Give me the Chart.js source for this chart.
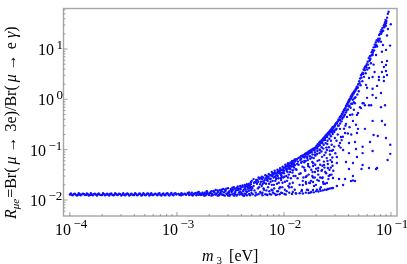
<!DOCTYPE html>
<html>
<head>
<meta charset="utf-8">
<title>R vs m3</title>
<script src="https://cdn.jsdelivr.net/npm/chart.js@4"></script>
<style>
body { margin: 0; background: #fff; }
canvas { display: block; }
</style>
</head>
<body>
<canvas id="plot" width="407" height="264"></canvas>
<script>
// values, m3 in eV and the ratio R
const flatM = [1.00e-4,1.04e-4,1.09e-4,1.13e-4,1.19e-4,1.24e-4,1.29e-4,1.35e-4,1.42e-4,1.47e-4,
  1.54e-4,1.60e-4,1.68e-4,1.76e-4,1.83e-4,1.90e-4,2.00e-4,2.08e-4,2.18e-4,2.28e-4,
  2.37e-4,2.47e-4,2.59e-4,2.71e-4,2.82e-4,2.94e-4,3.08e-4,3.22e-4,3.35e-4,3.49e-4,
  3.66e-4,3.83e-4,3.99e-4,4.15e-4,4.35e-4,4.55e-4,4.74e-4,4.94e-4,5.17e-4,5.41e-4,
  5.64e-4,5.88e-4,6.15e-4,6.43e-4,6.70e-4,6.98e-4,7.31e-4,7.64e-4,7.97e-4,8.31e-4,
  8.69e-4,9.08e-4,9.47e-4,9.88e-4,
  1.02e-4,1.11e-4,1.21e-4,1.32e-4,1.44e-4,1.57e-4,1.71e-4,1.86e-4,2.04e-4,2.23e-4,
  2.43e-4,2.65e-4,2.88e-4,3.15e-4,3.43e-4,3.74e-4,4.07e-4,4.45e-4,4.85e-4,5.28e-4,
  5.76e-4,6.28e-4,6.86e-4,7.47e-4,8.15e-4,8.88e-4,9.68e-4,
  1.06e-4,1.16e-4,1.26e-4,1.38e-4,1.50e-4,1.64e-4,1.79e-4,1.95e-4,2.13e-4,2.33e-4,
  2.54e-4,2.77e-4,3.02e-4,3.29e-4,3.58e-4,3.90e-4,4.26e-4,4.65e-4,5.07e-4,5.52e-4,
  6.02e-4,6.57e-4,7.16e-4,7.80e-4,8.50e-4,9.27e-4];
const flatR = [.0129,.0127,.0131,.0128,.0126,.0130,.0128,.0132,.0127,.0130,
  .0126,.0129,.0131,.0127,.0130,.0128,.0126,.0131,.0129,.0127,
  .0132,.0128,.0126,.0130,.0127,.0131,.0128,.0126,.0130,.0132,
  .0127,.0129,.0126,.0131,.0128,.0132,.0126,.0130,.0127,.0133,
  .0129,.0126,.0131,.0128,.0133,.0127,.0130,.0126,.0134,.0128,
  .0131,.0127,.0134,.0129,
  .0135,.0134,.0136,.0134,.0135,.0136,.0134,.0135,.0136,.0134,
  .0135,.0136,.0134,.0136,.0135,.0134,.0136,.0135,.0137,.0135,
  .0136,.0134,.0137,.0135,.0136,.0138,.0136,
  .0124,.0123,.0124,.0125,.0123,.0124,.0123,.0125,.0124,.0123,
  .0124,.0125,.0123,.0124,.0123,.0125,.0124,.0123,.0124,.0123,
  .0125,.0124,.0123,.0124,.0123,.0124];

const riseM = [1.03e-3,1.07e-3,1.10e-3,1.14e-3,1.18e-3,1.22e-3,1.26e-3,1.30e-3,1.34e-3,1.38e-3,
  1.42e-3,1.47e-3,1.52e-3,1.57e-3,1.62e-3,1.68e-3,1.73e-3,1.79e-3,1.85e-3,1.91e-3,
  1.97e-3,2.03e-3,2.10e-3,2.17e-3,2.24e-3,2.31e-3,2.39e-3,2.47e-3,2.55e-3,2.63e-3,
  2.72e-3,2.81e-3,2.90e-3,3.00e-3,3.09e-3,3.19e-3,3.29e-3,3.40e-3,3.51e-3,3.62e-3,
  3.74e-3,3.86e-3,3.99e-3,4.12e-3,4.25e-3,4.38e-3,4.52e-3,4.66e-3,4.82e-3,4.97e-3,
  2.60e-3,3.02e-3,3.30e-3,3.50e-3,3.70e-3,3.90e-3,4.10e-3,4.20e-3,4.30e-3,4.40e-3,
  4.60e-3,4.70e-3,4.90e-3,4.80e-3,4.50e-3,
  1.05e-3,1.12e-3,1.20e-3,1.28e-3,1.36e-3,1.44e-3,1.50e-3,1.55e-3,1.60e-3,1.65e-3,
  1.70e-3,1.76e-3,1.82e-3,1.88e-3,1.94e-3,2.00e-3,2.06e-3,2.13e-3,2.20e-3,2.28e-3,
  2.35e-3,2.43e-3,2.50e-3,2.58e-3,2.67e-3,2.76e-3,2.85e-3,2.95e-3,3.05e-3,3.14e-3,
  3.24e-3,3.35e-3,3.45e-3,3.56e-3,3.68e-3,3.80e-3,3.93e-3,4.05e-3,4.15e-3,4.28e-3,
  4.35e-3,4.45e-3,4.58e-3,4.72e-3,4.85e-3,4.95e-3,
  1.1e-3,1.3e-3,1.4e-3,1.6e-3,1.8e-3,1.9e-3,2.1e-3,2.2e-3,2.3e-3,2.4e-3,
  2.5e-3,2.6e-3,2.7e-3,2.8e-3,2.9e-3,3.0e-3,3.1e-3,3.2e-3,3.3e-3,3.4e-3,
  3.5e-3,3.6e-3,3.7e-3,3.8e-3,3.9e-3,4.0e-3,4.1e-3,4.2e-3,4.3e-3,4.4e-3,
  4.5e-3,4.6e-3,4.7e-3,4.8e-3,4.9e-3,5.0e-3];
const riseR = [.0132,.0126,.0136,.0128,.0133,.0127,.0138,.0125,.0131,.0140,
  .0127,.0135,.0124,.0142,.0130,.0126,.0140,.0133,.0124,.0146,
  .0128,.0136,.0150,.0125,.0141,.0130,.0154,.0124,.0138,.0148,
  .0126,.0160,.0134,.0123,.0150,.0166,.0130,.0122,.0144,.0174,
  .0156,.0128,.0136,.0184,.0121,.0162,.0146,.0194,.0124,.0138,
  .0130,.0142,.0152,.0130,.0166,.0146,.0126,.0158,.0174,.0132,
  .0176,.0152,.0206,.0168,.0124,
  .0129,.0132,.0130,.0133,.0128,.0132,.0138,.0131,.0127,.0135,
  .0131,.0127,.0139,.0132,.0137,.0126,.0143,.0132,.0147,.0128,
  .0135,.0145,.0132,.0152,.0127,.0143,.0152,.0130,.0138,.0127,
  .0144,.0162,.0136,.0156,.0128,.0140,.0164,.0133,.0150,.0134,
  .0188,.0148,.0190,.0132,.0182,.0156,
  .0124,.0142,.0123,.0145,.0122,.0150,.0122,.0152,.0158,.0122,
  .0157,.0160,.0165,.0122,.0168,.0172,.0121,.0158,.0175,.0180,
  .0168,.0122,.0185,.0170,.0190,.0178,.0195,.0122,.0200,.0185,
  .0205,.0168,.0208,.0190,.0225,.0180];

const cloudM = [5.0e-3,5.1e-3,5.2e-3,5.3e-3,5.4e-3,5.5e-3,5.6e-3,5.7e-3,5.8e-3,5.9e-3,
  6.0e-3,6.1e-3,6.2e-3,6.3e-3,6.4e-3,6.5e-3,6.6e-3,6.7e-3,6.8e-3,6.9e-3,
  7.0e-3,7.1e-3,7.2e-3,7.3e-3,7.4e-3,7.5e-3,7.6e-3,7.7e-3,7.8e-3,7.9e-3,
  8.0e-3,8.1e-3,8.2e-3,8.3e-3,8.4e-3,8.5e-3,8.6e-3,8.7e-3,8.8e-3,8.9e-3,
  9.0e-3,9.1e-3,9.2e-3,9.3e-3,9.4e-3,9.5e-3,9.6e-3,9.7e-3,9.8e-3,9.9e-3,
  .0101,.0102,.0103,.0104,.0106,.0107,.0109,.0110,.0111,.0112,
  .0114,.0115,.0116,.0118,.0119,.0120,.0121,.0123,.0124,.0126,
  .0127,.0128,.0129,5.35e-3,6.25e-3,7.05e-3,7.75e-3,8.55e-3,9.15e-3,9.75e-3,
  .0105,.0113,.0122,.0125,5.75e-3,6.55e-3,7.45e-3,8.25e-3,9.45e-3,.0108,
  5.05e-3,5.25e-3,5.45e-3,5.65e-3,5.85e-3,6.05e-3,6.15e-3,6.35e-3,6.45e-3,6.75e-3,
  6.85e-3,6.95e-3,7.15e-3,7.25e-3,7.35e-3,7.55e-3,7.65e-3,7.85e-3,7.95e-3,8.05e-3,
  8.15e-3,8.35e-3,8.45e-3,8.65e-3,8.75e-3,8.85e-3,8.95e-3,9.05e-3,9.25e-3,9.35e-3,
  9.55e-3,9.65e-3,9.85e-3,9.95e-3,.0100,.0102,.0104,.0105,.0106,.0108,
  .0109,.0110,.0111,.0113,.0114,.0116,.0117,.0118,.0120,.0121,
  .0123,.0124,.0126,.0128,.0129,.0130,
  5.2e-3,5.5e-3,5.8e-3,6.0e-3,6.2e-3,6.4e-3,6.7e-3,7.0e-3,7.2e-3,7.5e-3,
  7.7e-3,8.0e-3,8.2e-3,8.5e-3,8.7e-3,9.0e-3,9.2e-3,9.5e-3,9.7e-3,.0100,
  .0103,.0106,.0109,.0112,.0115,.0119,.0122,.0126,5.6e-3,6.3e-3,
  6.9e-3,7.8e-3,8.6e-3,9.4e-3,.0101,.0112,.0121];
const cloudR = [.024,.013,.019,.0155,.0123,.025,.021,.017,.0132,.0265,
  .0145,.023,.019,.0124,.028,.016,.025,.013,.021,.030,
  .0126,.018,.027,.015,.031,.023,.0128,.020,.033,.014,
  .028,.017,.035,.024,.0126,.031,.021,.036,.015,.027,
  .038,.013,.018,.033,.025,.040,.0138,.022,.035,.042,
  .029,.016,.044,.0129,.038,.024,.046,.019,.032,.014,
  .048,.041,.027,.050,.0132,.035,.022,.054,.044,.016,
  .058,.030,.0136,.0225,.026,.024,.030,.033,.036,.039,
  .041,.043,.047,.051,.023,.022,.026,.029,.031,.036,
  .017,.022,.014,.025,.018,.027,.0135,.021,.017,.027,
  .0155,.025,.029,.021,.0132,.031,.016,.024,.034,.020,
  .0134,.034,.026,.015,.030,.037,.022,.017,.040,.027,
  .035,.018,.028,.044,.038,.023,.047,.030,.015,.049,
  .028,.042,.052,.021,.036,.054,.046,.018,.057,.039,
  .030,.060,.049,.062,.041,.065,
  .026,.0225,.028,.0205,.029,.0235,.031,.028,.033,.0265,
  .036,.032,.038,.027,.040,.034,.043,.029,.046,.034,
  .050,.042,.054,.046,.056,.060,.052,.064,.0128,.014,
  .0128,.0155,.0128,.014,.0132,.0178,.0145];

const ridgeM = [.0132,.0136,.0140,.0144,.0148,.0152,.0157,.0161,.0166,.0170,
  .0175,.0180,.0185,.0190,.0196,.0201,.0207,.0213,.0219,.0225,
  .0231,.0238,.0244,.0250,.0257,.0264,.0271,.0278,.0285,
  .0142,.0155,.0168,.0182,.0193,.0204,.0216,.0228,.0241,.0253,.0267,.0281,
  .0292,.0300,.0308,.0316,.0324,.0332,.0340,.0348,.0356,.0364,
  .0372,.0380,.0388,.0396,.0404,.0412,.0420,.0428,.0436,.0444,.0452,.0460,.0470,.0478,
  .0295,.0305,.0320,.0335,.0350,.0365,.0380,.0395,.0410,.0425,.0440,.0455,
  .0485,.0495,.0505,.0515,.0525,.0535,.0545,.0555,.0565,.0575,
  .0585,.0595,.0605,.0620,.0635,.0648,.0660,.0672,.0680,.0690,
  .0705,.0720,.0735,.0750,.0760,.0775,.0790,.0800,.0815,.0830,
  .0845,.0855,.0870,.0880,.0890,.0905,.0920,.0935,.0950,
  .0135,.0145,.0150,.0158,.0163,.0172,.0178,.0188,.0194,.0199,
  .0205,.0210,.0215,.0222,.0228,.0235,.0240,.0247,.0254,.0260,
  .0268,.0275,.0283,.0290,.0298,.0303,.0312,.0322,.0330,.0338,
  .0345,.0353,.0360,.0368,.0376,.0384,.0392,.0400,.0408,.0416,
  .0424,.0432,.0440,.0448,.0456,.0465,.0474,
  .0490,.0510,.0530,.0550,.0570,.0590,.0610,.0628,.0642,.0665,
  .0676,.0695,.0712,.0730,.0765,.0785,.0810,.0825,.0885,.0895,.0900,.0865,
  .0145,.0155,.0165,.0175,.0185,.0195,.0205,.0215,.0225,.0235,
  .0245,.0255,.0265,.0275,.0285,.0295,.0310,.0325,.0345,.0358,
  .0370,.0385,.0405,.0420,.0435,.0450,.0465,.0485,.0500,.0520,
  .0540,.0560,.0580,.0600,.0625,.0650];
const ridgeR = [.064,.068,.070,.074,.076,.078,.082,.085,.088,.092,
  .095,.099,.103,.106,.110,.118,.128,.138,.145,.155,
  .165,.176,.190,.200,.214,.228,.244,.260,.280,
  .062,.070,.080,.090,.096,.105,.122,.135,.160,.178,.200,.232,
  .29,.31,.34,.36,.40,.44,.47,.52,.57,.62,
  .66,.74,.80,.88,.96,1.02,1.12,1.2,1.28,1.36,1.42,1.5,1.62,1.75,
  .24,.25,.30,.33,.41,.47,.55,.63,.75,.82,.98,1.05,
  1.8,2.0,2.3,2.6,3.0,3.2,3.4,3.9,4.2,4.5,
  4.6,5.0,5.6,6.6,7.2,7.4,8.6,9.6,9.0,10.8,
  12.2,13.5,15,14.5,16,19,20,22,24,26,
  23,29,31,34,38,36,42,50,55,
  .058,.066,.072,.074,.080,.086,.088,.098,.104,.108,
  .113,.118,.125,.135,.146,.155,.168,.178,.192,.205,
  .220,.238,.250,.270,.288,.320,.330,.370,.395,.440,
  .480,.515,.560,.610,.670,.730,.790,.860,.930,1.00,
  1.06,1.14,1.24,1.30,1.40,1.48,1.60,
  1.7,2.1,2.7,3.2,3.8,4.3,4.9,5.8,6.4,7.6,
  8.4,9.4,11,12,14,16,20,22,30,29,33,27,
  .055,.060,.068,.074,.080,.088,.094,.100,.112,.125,
  .135,.150,.165,.185,.205,.225,.260,.300,.365,.44,
  .50,.60,.72,.68,.82,.88,1.1,1.25,1.45,1.9,
  2.3,2.8,3.3,3.9,4.2,5.2];

const midM = [.0131,.0134,.0137,.0140,.0143,.0146,.0149,.0152,.0155,.0158,
  .0161,.0164,.0167,.0170,.0173,.0176,.0179,.0182,.0185,.0188,
  .0191,.0194,.0197,.0200,.0203,.0206,.0209,.0212,.0215,.0218,
  .0221,.0224,.0227,.0230,.0233,.0236,.0239,.0242,.0245,.0248,
  .0251,.0254,.0257,.0260,.0263,.0266,.0269,.0272,.0275,.0278,
  .0281,.0284,
  .0217,.0241,.0281,.0299,.0341,.0372,.0334,.0405,.0461,.0287,
  .0252,.0217,.0195,.0165,.0184,.0168,.0187,.0209,.0237,.0281,
  .0312,.0357,.0405,.0380,.0481,.0312,.0257,.0227,.0195,.0157,
  .0160,.0184,.0205,.0227,.0269,.0287,.0327,.0372,.0441,.0423,
  .0461,.0441,.0160,.0175,.0187,.0232,.0252,
  .0492,.0481,.0571,.0471,.0441,.0380,.0334,.0388,.0481,.0461,
  .0543,.0623,.0571,.0414,.0334,.0513,.0492,
  .0133,.0139,.0147,.0150,.0154,.0160,.0163,.0168,.0172,.0176,
  .0180,.0187,.0190,.0196,.0199,.0204,.0208,.0214,.0218,.0224,
  .0229,.0234,.0238,.0243,.0249,.0255,.0262,.0268,.0274,.0279,
  .0283,.0289,.0295,.0302,.0310,.0318,.0326,.0338,.0346,.0355,
  .0364,.0375,.0395,.0410,.0425,.0435,.0450];
const midR = [.040,.027,.050,.020,.034,.015,.046,.028,.056,.038,
  .021,.016,.062,.032,.045,.014,.024,.070,.036,.054,
  .019,.028,.076,.042,.016,.060,.032,.024,.086,.050,
  .018,.038,.072,.028,.105,.058,.044,.021,.088,.034,
  .068,.130,.052,.026,.112,.040,.080,.062,.150,.032,
  .095,.048,
  .142,.156,.224,.171,.179,.215,.136,.136,.142,.0986,
  .0986,.0986,.0785,.0717,.0568,.0473,.0473,.0432,.0495,.0568,
  .0717,.0986,.0855,.0568,.0717,.0543,.0432,.0394,.0359,.0394,
  .0286,.0300,.0250,.0274,.0314,.0274,.0261,.0261,.0300,.0239,
  .0239,.0245,.0228,.0218,.0228,.0228,.0218,
  .259,.215,.259,.312,.373,.326,.259,.448,.491,.839,
  .839,.765,.765,.491,.39,.70,.536,
  .052,.033,.058,.024,.044,.060,.030,.052,.022,.066,
  .040,.028,.068,.050,.020,.082,.038,.062,.028,.092,
  .048,.021,.078,.036,.110,.060,.030,.095,.044,.125,
  .070,.038,.115,.085,.150,.200,.120,.110,.155,.180,
  .260,.300,.210,.280,.200,.50,.62];

const lowerM = [.0130,.0140,.0150,.0160,.0170,.0180,.0190,.0200,.0210,.0220,
  .0230,.0240,.0250,.0260,.0270,.0280,.0150,.0168,.0187,.0217,
  .0257,.0287,.0312,.0357,.0147];
const lowerR = [.0134,.0136,.0135,.0140,.0138,.0144,.0142,.0150,.0148,.0152,
  .0155,.0160,.0160,.0166,.0170,.0172,.0199,.0158,.0158,.0165,
  .0165,.0173,.0190,.0199,.0158];

const sparseM = [.0806,.0879,.0823,.0879,.0673,.0898,.0688,.0753,.0637,.0985,
  .0985,.0930,.0673,.0543,.0543,.0471,.0530,.0543,.0441,.0623,
  .0725,.0741,.0405,
  .0995,.0937,.0918,.0980,.0898,.0823,.0741,.0725,.0673,.0918,
  .0823,.0898,.0858,.0898,.0823,.0918,.0771,.0858,.0623,.0771,
  .0858,.0673,.0703,.0741,.0584,.0673,.0597,.0806,.0725,.0597,
  .0673,.0555,.0652,.0524,.0688,.0637,.0725,.0771,.0841,.0806];
const sparseR = [.70,.765,.37,.312,.373,.171,.196,.187,.142,.125,
  .0826,.0624,.0943,.114,.0855,.103,.0412,.0495,.0543,.0432,
  .0412,.0432,.0412,
  31,25,18.5,11.7,9.6,8.8,11.2,7.6,7.6,5.8,
  5.5,4.8,4.4,3.65,3.5,3.05,2.78,2.78,2.65,2.43,
  2.32,2.78,3.5,1.85,1.94,1.62,1.7,1.34,1.07,1.07,
  1.22,.84,.765,.67,4.9,6.1,11.6,15,12,14];

const xTickExps = [-4, -3, -2, -1];
const yTickExps = [-2, -1, 0, 1];
const xMinorTicks = [2e-4,3e-4,4e-4,5e-4,6e-4,7e-4,8e-4,9e-4,2e-3,3e-3,4e-3,5e-3,6e-3,7e-3,8e-3,9e-3,
  2e-2,3e-2,4e-2,5e-2,6e-2,7e-2,8e-2,9e-2];
const yMinorTicks = [6e-3,7e-3,8e-3,9e-3,2e-2,3e-2,4e-2,5e-2,6e-2,7e-2,8e-2,9e-2,
  .2,.3,.4,.5,.6,.7,.8,.9,2,3,4,5,6,7,8,9,20,30,40,50,60];

const allM = [].concat(flatM, riseM, cloudM, ridgeM, midM, lowerM, sparseM);
const allR = [].concat(flatR, riseR, cloudR, ridgeR, midR, lowerR, sparseR);
const points = allM.map((m, i) => ({ x: m, y: allR[i] }));

const serif = '"Liberation Serif", "Times New Roman", serif';

// draws pieces of text one after the other from (x, y)
function drawRuns(ctx, runs, x, y) {
  runs.forEach(run => {
    ctx.font = run.font;
    ctx.fillText(run.text, x + (run.dx || 0), y + (run.dy || 0));
    x += (run.dx || 0) + ctx.measureText(run.text).width;
  });
}

function expText(e) {
  return (e < 0 ? '\u2212' : '') + Math.abs(e);
}

const framePlugin = {
  id: 'frame',
  afterDraw(chart) {
    const ctx = chart.ctx;
    const a = chart.chartArea;
    const xs = chart.scales.x;
    const ys = chart.scales.y;
    ctx.save();

    // frame
    ctx.strokeStyle = '#a6a6a6';
    ctx.lineWidth = 1.4;
    ctx.strokeRect(a.left, a.top, a.right - a.left, a.bottom - a.top);

    // inward tick marks
    ctx.strokeStyle = '#777';
    ctx.lineWidth = 0.7;
    ctx.beginPath();
    xTickExps.forEach(e => {
      const p = xs.getPixelForValue(Math.pow(10, e));
      ctx.moveTo(p, a.bottom); ctx.lineTo(p, a.bottom - 4);
    });
    xMinorTicks.forEach(v => {
      const p = xs.getPixelForValue(v);
      ctx.moveTo(p, a.bottom); ctx.lineTo(p, a.bottom - 2);
    });
    yTickExps.forEach(e => {
      const p = ys.getPixelForValue(Math.pow(10, e));
      ctx.moveTo(a.left, p); ctx.lineTo(a.left + 4, p);
    });
    yMinorTicks.forEach(v => {
      const p = ys.getPixelForValue(v);
      ctx.moveTo(a.left, p); ctx.lineTo(a.left + 2, p);
    });
    ctx.stroke();

    // tick labels
    ctx.fillStyle = '#000';
    ctx.textBaseline = 'alphabetic';
    ctx.textAlign = 'left';
    const big = '16px ' + serif;
    const small = '13px ' + serif;
    xTickExps.forEach(e => {
      const p = xs.getPixelForValue(Math.pow(10, e));
      drawRuns(ctx, [{ text: '10', font: big }, { text: expText(e), font: small, dx: 2.5, dy: -7 }], p - 15, 234.5);
    });
    yTickExps.forEach(e => {
      const p = ys.getPixelForValue(Math.pow(10, e));
      const left = e < 0 ? 30 : 38;
      drawRuns(ctx, [{ text: '10', font: big }, { text: expText(e), font: small, dx: 2.5, dy: -6 }], left, p + 6);
    });

    // x axis title
    drawRuns(ctx, [
      { text: 'm', font: 'italic 16px ' + serif },
      { text: '3', font: '11px ' + serif, dx: 3, dy: 3 },
      { text: '[eV]', font: '16px ' + serif, dx: 7 }
    ], 202, 261);

    // y axis title, turned
    ctx.translate(16, 219);
    ctx.rotate(-Math.PI / 2);
    drawRuns(ctx, [
      { text: 'R', font: 'italic 16px ' + serif },
      { text: '\u03bce', font: 'italic 11px ' + serif, dy: 3 },
      { text: '=Br(', font: '16px ' + serif, dx: 1 },
      { text: '\u03bc', font: 'italic 16px ' + serif, dx: 3 },
      { text: '\u2192', font: '16px ' + serif, dx: 4 },
      { text: '3e)/Br(', font: '16px ' + serif, dx: 5 },
      { text: '\u03bc', font: 'italic 16px ' + serif, dx: 3 },
      { text: '\u2192', font: '16px ' + serif, dx: 4 },
      { text: 'e', font: '16px ' + serif, dx: 5 },
      { text: '\u03b3', font: 'italic 16px ' + serif, dx: 4 },
      { text: ')', font: '16px ' + serif }
    ], 0, 0);
    ctx.restore();
  }
};

new Chart(document.getElementById('plot'), {
  type: 'scatter',
  data: {
    datasets: [{
      data: points,
      backgroundColor: 'rgb(15,15,255)',
      pointRadius: 1.2,
      pointBorderWidth: 0
    }]
  },
  options: {
    responsive: false,
    animation: false,
    layout: { padding: { top: 8.5, right: 10, left: 0, bottom: 0 } },
    plugins: { legend: { display: false }, tooltip: { enabled: false } },
    scales: {
      x: {
        type: 'logarithmic',
        min: 8.71e-5,
        max: 0.1138,
        grid: { display: false },
        border: { display: false },
        ticks: { display: false },
        afterFit(scale) { scale.height = 48; }
      },
      y: {
        type: 'logarithmic',
        min: 0.00481,
        max: 63.8,
        grid: { display: false },
        border: { display: false },
        ticks: { display: false },
        afterFit(scale) { scale.width = 63.5; }
      }
    }
  },
  plugins: [framePlugin]
});
</script>
</body>
</html>
